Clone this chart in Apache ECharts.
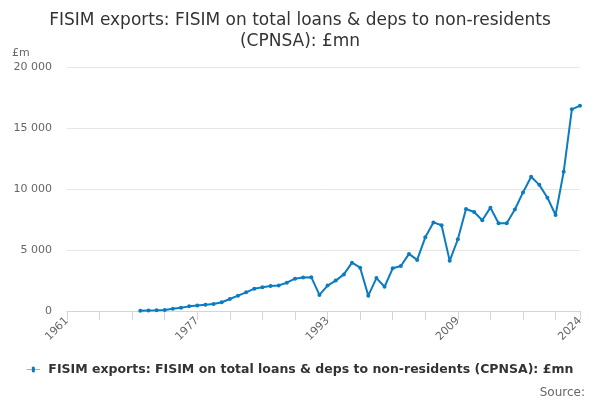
<!DOCTYPE html>
<html>
<head>
<meta charset="utf-8">
<script src="https://cdn.jsdelivr.net/npm/echarts@6/dist/echarts.min.js"></script>
<style>
html,body{margin:0;padding:0;background:#fff;}
#chart{width:600px;height:400px;}
</style>
</head>
<body>
<div id="chart"></div>
<script>
const years = [];
for (let y = 1961; y <= 2024; y++) years.push(String(y));

const seriesName = 'FISIM exports: FISIM on total loans & deps to non-residents (CPNSA): £mn';

// values 1961-1969 missing, data from 1970 to 2024
const valuesMissing = [null, null, null, null, null, null, null, null, null];
const values1970s = [30, 50, 60, 90, 190, 270, 380, 460, 520, 580];
const values1980s = [720, 980, 1260, 1530, 1830, 1940, 2050, 2100, 2320, 2650];
const values1990s = [2750, 2770, 1320, 2080, 2490, 3000, 3960, 3550, 1260, 2700];
const values2000s = [1990, 3500, 3690, 4680, 4190, 6040, 7260, 7030, 4110, 5880];
const values2010s = [8360, 8110, 7440, 8470, 7200, 7190, 8320, 9720, 11000, 10340];
const values2020s = [9290, 7870, 11420, 16530, 16830];

const values = [].concat(valuesMissing, values1970s, values1980s, values1990s, values2000s, values2010s, values2020s);

const chart = echarts.init(document.getElementById('chart'));
chart.setOption({
  animation: false,
  textStyle: { fontFamily: 'DejaVu Sans' },
  title: [{
    text: 'FISIM exports: FISIM on total loans & deps to non-residents\n(CPNSA): £mn',
    left: 'center',
    top: 5,
    textStyle: { fontSize: 17, fontWeight: 'normal', color: '#333', lineHeight: 21, fontFamily: 'DejaVu Sans' }
  }, {
    text: 'Source:',
    right: 10,
    top: 382,
    textStyle: { fontSize: 12, fontWeight: 'normal', color: '#666', fontFamily: 'DejaVu Sans' }
  }],
  legend: {
    bottom: 19,
    left: 'center',
    itemWidth: 20,
    itemHeight: 6,
    itemGap: 10,
    textStyle: { fontSize: 12.5, fontWeight: 'bold', color: '#333', fontFamily: 'DejaVu Sans' },
    data: [{ name: seriesName, icon: 'path://M0,2.5 L8,2.5 A2.5,2.5 0 1 1 12,2.5 L20,2.5 L20,3.5 L12,3.5 A2.5,2.5 0 1 1 8,3.5 L0,3.5 Z' }]
  },
  grid: { left: 67, right: 20, top: 67, bottom: 89, containLabel: false },
  xAxis: {
    type: 'category',
    data: years,
    boundaryGap: false,
    axisLine: { lineStyle: { color: '#ccd6eb' } },
    axisTick: {
      length: 9,
      lineStyle: { color: '#ccd6eb' },
      interval: function (i, v) { const y = +v; return (y - 1961) % 4 === 0 || y === 2024; }
    },
    axisLabel: {
      rotate: 45,
      color: '#666',
      fontSize: 11,
      margin: 8,
      interval: function (i, v) { const y = +v; return (y - 1961) % 16 === 0 || y === 2024; }
    },
    splitLine: { show: false }
  },
  yAxis: {
    type: 'value',
    name: '£m',
    nameLocation: 'end',
    nameGap: 8,
    nameTextStyle: { color: '#666', fontSize: 11, align: 'left', padding: [0, 0, 0, -55] },
    min: 0,
    max: 20000,
    interval: 5000,
    axisLine: { show: false },
    axisTick: { show: false },
    axisLabel: {
      color: '#666',
      fontSize: 11,
      margin: 15,
      formatter: function (v) { return String(v).replace(/\B(?=(\d{3})+(?!\d))/g, ' '); }
    },
    splitLine: { lineStyle: { color: '#e6e6e6' } }
  },
  series: [{
    name: seriesName,
    type: 'line',
    data: values,
    connectNulls: false,
    symbol: 'circle',
    symbolSize: 4,
    showSymbol: true,
    lineStyle: { width: 2, color: '#0b7cc1' },
    itemStyle: { color: '#0b7cc1' }
  }]
});
</script>
</body>
</html>
